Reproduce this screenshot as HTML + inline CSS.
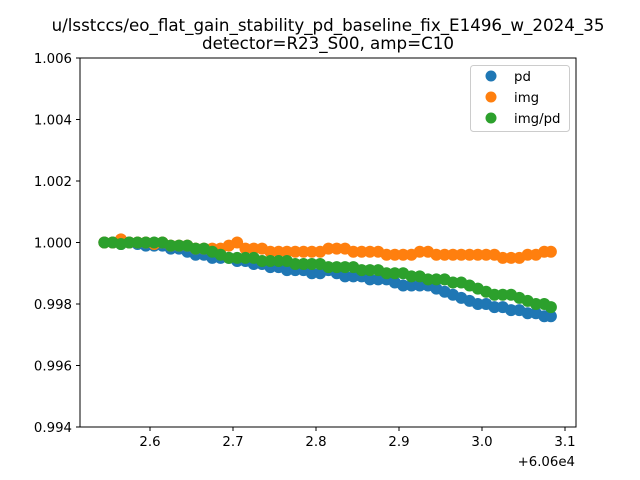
<!DOCTYPE html>
<html><head><meta charset="utf-8"><style>
body{margin:0;background:#fff;}
svg{display:block;font-family:"DejaVu Sans","Liberation Sans",sans-serif;}
</style></head><body>
<svg width="640" height="480" viewBox="0 0 640 480">
<rect width="640" height="480" fill="#fff"/>
<text x="328" y="31" text-anchor="middle" font-size="16.7">u/lsstccs/eo_flat_gain_stability_pd_baseline_fix_E1496_w_2024_35</text>
<text x="328" y="49" text-anchor="middle" font-size="16.7">detector=R23_S00, amp=C10</text>
<g id="marks"></g>
<rect x="80" y="58" width="496" height="369" fill="none" stroke="#000" stroke-width="1"/>
<g id="xticks"></g><g id="yticks"></g>
<text x="575" y="466" text-anchor="end" font-size="13.3">+6.06e4</text>
<g>
<rect x="470.5" y="65.5" width="99" height="66" rx="3" fill="#fff" fill-opacity="0.8" stroke="#ccc"/>
<g><circle cx="491" cy="76" r="5.5" fill="#1f77b4"/><text x="514" y="81" font-size="13.3">pd</text></g>
<g><circle cx="491" cy="97" r="5.5" fill="#ff7f0e"/><text x="514" y="102" font-size="13.3">img</text></g>
<g><circle cx="491" cy="118" r="5.5" fill="#2ca02c"/><text x="514" y="123" font-size="13.3">img/pd</text></g>
</g>
</svg>
<script>
const xs=[2.545,2.555,2.565,2.575,2.585,2.595,2.605,2.615,2.625,2.635,2.645,2.655,2.665,2.675,2.685,2.695,2.705,2.715,2.725,2.735,2.745,2.755,2.765,2.775,2.785,2.795,2.805,2.815,2.825,2.835,2.845,2.855,2.865,2.875,2.885,2.895,2.905,2.915,2.925,2.935,2.945,2.955,2.965,2.975,2.985,2.995,3.005,3.015,3.025,3.035,3.045,3.055,3.065,3.075,3.083];
const pd=[1.0000,1.0000,0.99995,1.0000,0.99995,0.9999,0.9999,0.9999,0.9998,0.9998,0.9997,0.9996,0.9996,0.9995,0.9995,0.9995,0.9994,0.9994,0.9993,0.9993,0.9992,0.9992,0.9991,0.9991,0.9991,0.9990,0.9990,0.9991,0.9990,0.9989,0.9989,0.9989,0.9988,0.9988,0.9988,0.9987,0.9986,0.9986,0.9986,0.9986,0.9985,0.9984,0.9983,0.9982,0.9981,0.9980,0.9980,0.9979,0.9979,0.9978,0.9978,0.9977,0.9977,0.9976,0.9976];
const img=[1.0000,1.0000,1.0001,1.0000,1.0000,1.0000,0.99995,1.0000,0.9999,0.9999,0.9999,0.9998,0.9998,0.9998,0.9998,0.9999,1.0000,0.9998,0.9998,0.9998,0.9997,0.9997,0.9997,0.9997,0.9997,0.9997,0.9997,0.9998,0.9998,0.9998,0.9997,0.9997,0.9997,0.9997,0.9996,0.9996,0.9996,0.9996,0.9997,0.9997,0.9996,0.9996,0.9996,0.9996,0.9996,0.9996,0.9996,0.9996,0.9995,0.9995,0.9995,0.9996,0.9996,0.9997,0.9997];
const ratio=[1.0000,1.0000,0.99995,1.0000,1.0000,1.0000,1.0000,1.0000,0.9999,0.9999,0.9999,0.9998,0.9998,0.9997,0.9996,0.9995,0.9995,0.9995,0.9995,0.9994,0.9994,0.9994,0.9994,0.9993,0.9993,0.9993,0.9993,0.9992,0.9992,0.9992,0.9992,0.9991,0.9991,0.9991,0.9990,0.9990,0.9990,0.9989,0.9989,0.9988,0.9988,0.9988,0.9987,0.9987,0.9986,0.9985,0.9984,0.9983,0.9983,0.9983,0.9982,0.9981,0.9980,0.9980,0.9979];
const xTicks=[2.6,2.7,2.8,2.9,3.0,3.1];
const xTickLabels=["2.6","2.7","2.8","2.9","3.0","3.1"];
const yTicks=[0.994,0.996,0.998,1.000,1.002,1.004,1.006];
const yTickLabels=["0.994","0.996","0.998","1.000","1.002","1.004","1.006"];
const NS="http://www.w3.org/2000/svg";
const X=v=>150+(v-2.6)*830;
const Y=v=>427-(v-0.994)/0.012*369;
const marks=document.getElementById('marks');
function series(vals,color,name){
  const g=document.createElementNS(NS,'g');
  
  
  xs.forEach((x,i)=>{
    const c=document.createElementNS(NS,'circle');
    c.setAttribute('cx',X(x));c.setAttribute('cy',Y(vals[i]));c.setAttribute('r',6);c.setAttribute('fill',color);
    
    
    g.appendChild(c);
  });
  marks.appendChild(g);
}
series(pd,'#1f77b4','series-pd');
series(img,'#ff7f0e','series-img');
series(ratio,'#2ca02c','series-img-pd');
const xt=document.getElementById('xticks');
xTicks.forEach((t,i)=>{
  const l=document.createElementNS(NS,'line');
  l.setAttribute('x1',X(t));l.setAttribute('x2',X(t));l.setAttribute('y1',427);l.setAttribute('y2',431);l.setAttribute('stroke','#000');
  
  
  xt.appendChild(l);
  const s=document.createElementNS(NS,'text');
  s.setAttribute('x',X(t));s.setAttribute('y',446);s.setAttribute('text-anchor','middle');s.setAttribute('font-size','13.3');
  s.textContent=xTickLabels[i];
  
  
  xt.appendChild(s);
});
const yt=document.getElementById('yticks');
yTicks.forEach((t,i)=>{
  const l=document.createElementNS(NS,'line');
  l.setAttribute('x1',76);l.setAttribute('x2',80);l.setAttribute('y1',Y(t));l.setAttribute('y2',Y(t));l.setAttribute('stroke','#000');
  
  
  yt.appendChild(l);
  const s=document.createElementNS(NS,'text');
  s.setAttribute('x',72);s.setAttribute('y',Y(t)+5);s.setAttribute('text-anchor','end');s.setAttribute('font-size','13.3');
  s.textContent=yTickLabels[i];
  
  
  yt.appendChild(s);
});
</script>
</body></html>
